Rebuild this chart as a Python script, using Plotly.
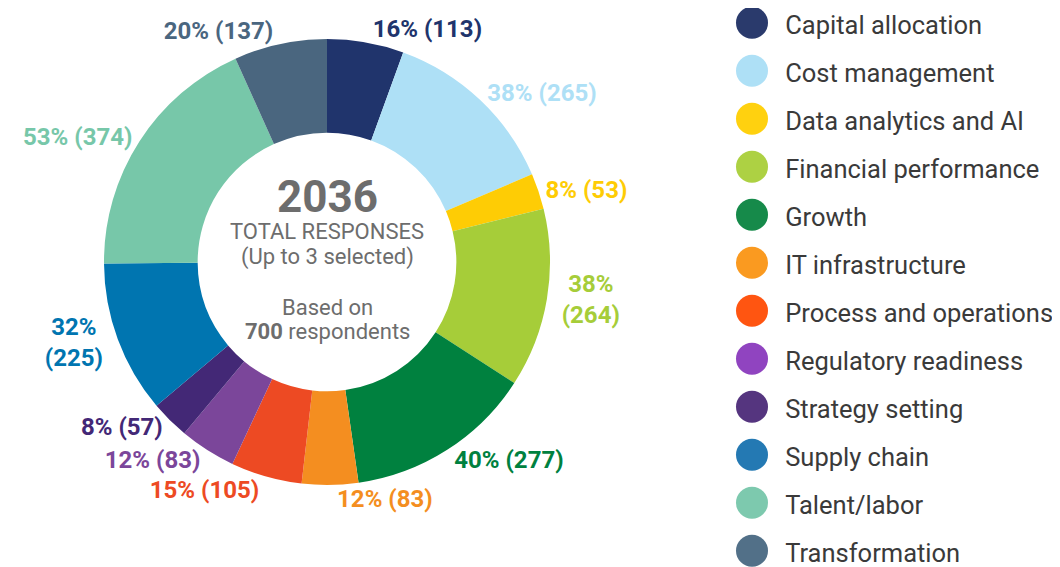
import plotly.graph_objects as go

categories = ["Capital allocation", "Cost management", "Data analytics and AI",
              "Financial performance", "Growth", "IT infrastructure",
              "Process and operations", "Regulatory readiness", "Strategy setting",
              "Supply chain", "Talent/labor", "Transformation"]
responses = [113, 265, 53, 264, 277, 83, 105, 83, 57, 225, 374, 137]
respondents = 700
wrap_label = [False, False, False, True, False, False, False, False, False, True, False, False]

slice_colors = ["#20346c", "#aee0f6", "#fecc05", "#a6cd39", "#00813f", "#f48e20",
                "#ed4a23", "#7b469a", "#432876", "#0075b0", "#77c7a9", "#4a667f"]
legend_colors = ["#2a3a6c", "#aee0f6", "#ffd10f", "#add143", "#168a4a", "#fa9a20",
                 "#ff5511", "#9044c0", "#55357f", "#2479b3", "#7dc9ae", "#527088"]

total = sum(responses)
labels_text = []
for v, w in zip(responses, wrap_label):
    pct = f"{round(v / respondents * 100)}%"
    labels_text.append(f"{pct}<br>({v})" if w else f"{pct} ({v})")

FONT = "Roboto"
W, H = 1052, 559     # page body has an 8px margin
OFF = 8

def py(y_page):
    return 1 - (y_page - OFF) / H

def px(x_page):
    return (x_page - OFF) / W

CXP, CYP, R = 327, 262, 223
pie_dom_x = [px(CXP - R), px(CXP + R)]
pie_dom_y = [py(CYP + R), py(CYP - R)]

fig = go.Figure()
fig.add_trace(go.Pie(
    labels=categories, values=responses, text=labels_text, textinfo="text",
    textposition="outside", sort=False, direction="clockwise", rotation=0,
    hole=0.58, marker=dict(colors=slice_colors, line=dict(width=0)),
    outsidetextfont=dict(family=FONT, size=24, color=slice_colors, weight="bold"),
    showlegend=False, domain=dict(x=pie_dom_x, y=pie_dom_y), hoverinfo="label+value",
))

# legend drawn as scatter traces on their own axes
row = 48.0
text_drop = 5 / row   # text sits slightly lower than its dot
idx = list(range(len(categories)))
fig.add_trace(go.Scatter(
    x=[0] * len(categories), y=idx, mode="markers",
    marker=dict(size=32, color=legend_colors, line=dict(width=0)),
    xaxis="x2", yaxis="y2", showlegend=False, hoverinfo="skip",
))
fig.add_trace(go.Scatter(
    x=[0.97] * len(categories), y=[i + text_drop for i in idx], mode="text",
    text=categories, textposition="middle right",
    textfont=dict(family=FONT, size=25.5, color="#3a3a3a"),
    xaxis="x2", yaxis="y2", showlegend=False, hoverinfo="skip",
))

gray = "#6d6d6d"
cx = px(CXP)
center_lines = [
    (f"<b>{total}</b>", 44, 197),
    ("TOTAL RESPONSES", 22, 232),
    ("(Up to 3 selected)", 22, 257),
    ("Based on", 22, 307),
    (f"<b>{respondents}</b> respondents", 22, 331),
]
for txt, sz, yp in center_lines:
    fig.add_annotation(x=cx, y=py(yp), xref="paper", yref="paper", text=txt,
                       showarrow=False, xanchor="center", yanchor="middle",
                       font=dict(family=FONT, size=sz, color=gray))

# legend axis: dot x=0 at page x 752, rows 48px apart starting at page y 22.7
start = (752 - OFF - 0.1 * W) / 0.9
y0 = 22.7 - OFF
fig.update_layout(
    width=W, height=H, margin=dict(l=0, r=0, t=0, b=0),
    paper_bgcolor="white", plot_bgcolor="white",
    xaxis2=dict(domain=[start / W, 1], range=[-1, 9], visible=False, fixedrange=True),
    yaxis2=dict(domain=[0, 1], range=[(H - y0) / row, -y0 / row],
                visible=False, fixedrange=True, anchor="x2"),
)
fig.write_html("out.html")
